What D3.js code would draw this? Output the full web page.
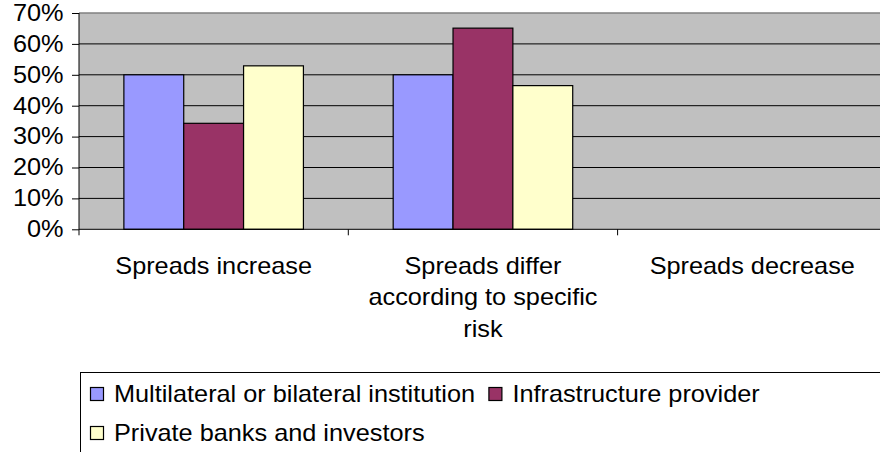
<!DOCTYPE html>
<html>
<head>
<meta charset="utf-8">
<script src="https://cdn.jsdelivr.net/npm/d3@7"></script>
<style>
  html, body { margin: 0; padding: 0; background: #fff; }
  svg { display: block; }
  text { font-family: "Liberation Sans", Arial, sans-serif; fill: #000; }
</style>
</head>
<body>
<script>
// ---- data ----
const categories = ["Spreads increase", "Spreads differ according to specific risk", "Spreads decrease"];
const seriesNames = ["Multilateral or bilateral institution", "Infrastructure provider", "Private banks and investors"];
const multilateral = [0.50, 0.50, 0];
const infrastructure = [0.343, 0.651, 0];
const privateBanks = [0.529, 0.465, 0];
const yTicks = [0, 0.1, 0.2, 0.3, 0.4, 0.5, 0.6, 0.7];
const colors = ["#9999FF", "#993366", "#FFFFCC"];

const seriesValues = [multilateral, infrastructure, privateBanks];

// ---- layout ----
const W = 880, H = 452;
const FS = 23, SX = 1.1;
const plot = { left: 79, top: 13, bottom: 229.3, step: 269.3 };
plot.right = plot.left + plot.step * categories.length;

const svg = d3.select("body").append("svg").attr("width", W).attr("height", H);
svg.append("rect").attr("width", W).attr("height", H).attr("fill", "#fff");

const x0 = d3.scaleBand().domain(categories).range([plot.left, plot.right]).padding(0);
const x1 = d3.scaleBand().domain(seriesNames).range([0, x0.bandwidth()]).paddingInner(0).paddingOuter(0.75);
const y = d3.scaleLinear().domain([0, 0.7]).range([plot.bottom, plot.top]);

// plot background
svg.append("rect")
  .attr("x", plot.left).attr("y", plot.top)
  .attr("width", plot.right - plot.left).attr("height", plot.bottom - plot.top)
  .attr("fill", "#C0C0C0");

// gridlines
svg.append("g").selectAll("line").data(yTicks.filter(d => d > 0 && d < 0.7)).join("line")
  .attr("x1", plot.left).attr("x2", plot.right)
  .attr("y1", d => y(d)).attr("y2", d => y(d))
  .attr("stroke", "#000").attr("stroke-width", 1);
// top border
svg.append("line")
  .attr("x1", plot.left).attr("x2", plot.right)
  .attr("y1", y(0.7)).attr("y2", y(0.7))
  .attr("stroke", "#808080").attr("stroke-width", 1.5);

// bars
const flat = [];
categories.forEach((c, ci) => seriesNames.forEach((s, si) => flat.push({ c, s, si, v: seriesValues[si][ci] })));
svg.append("g").selectAll("rect").data(flat.filter(d => d.v > 0)).join("rect")
  .attr("x", d => x0(d.c) + x1(d.s))
  .attr("width", x1.bandwidth())
  .attr("y", d => y(d.v))
  .attr("height", d => y(0) - y(d.v))
  .attr("fill", d => colors[d.si])
  .attr("stroke", "#000").attr("stroke-width", 1.2);

// y axis
const yAxis = d3.axisLeft(y).tickValues(yTicks).tickFormat(d3.format(".0%")).tickSize(7).tickPadding(8.5);
const gy = svg.append("g").attr("transform", `translate(${plot.left},0)`).call(yAxis);
gy.select(".domain").attr("stroke", "#000").attr("d", `M0,${plot.top}V${plot.bottom}`);
gy.selectAll(".tick line").attr("stroke", "#000");
gy.selectAll(".tick text")
  .attr("font-size", FS).attr("font-family", "Liberation Sans, Arial, sans-serif")
  .attr("fill", "#000")
  .attr("transform", `scale(${SX},1)`)
  .attr("x", -15.5 / SX);

// x axis
const gx = svg.append("g");
gx.append("line").attr("x1", plot.left).attr("x2", plot.right)
  .attr("y1", plot.bottom).attr("y2", plot.bottom).attr("stroke", "#000");
const boundaries = categories.map(c => x0(c)).concat([plot.right]);
gx.selectAll("line.tk").data(boundaries).join("line").attr("class", "tk")
  .attr("x1", d => d).attr("x2", d => d)
  .attr("y1", plot.bottom).attr("y2", plot.bottom + 6).attr("stroke", "#000");

// category labels with wrapping
const measure = svg.append("text").attr("font-size", FS).attr("visibility", "hidden");
function textW(s) { measure.text(s); return measure.node().getComputedTextLength() * SX; }
function wrap(s, maxW) {
  const words = s.split(" "); const lines = []; let cur = "";
  words.forEach(w => {
    const t = cur ? cur + " " + w : w;
    if (cur && textW(t) > maxW) { lines.push(cur); cur = w; } else cur = t;
  });
  if (cur) lines.push(cur);
  return lines;
}
categories.forEach(c => {
  const lines = wrap(c, 240);
  const cx = x0(c) + x0.bandwidth() / 2;
  lines.forEach((ln, i) => {
    svg.append("text")
      .attr("transform", `translate(${cx},${273.5 + i * 31.5}) scale(${SX},1)`)
      .attr("text-anchor", "middle").attr("font-size", FS).text(ln);
  });
});

// legend
svg.append("rect").attr("x", 80.5).attr("y", 372.5).attr("width", 900).attr("height", 200)
  .attr("fill", "#fff").attr("stroke", "#000").attr("stroke-width", 1);
let lx = 90, row = 0;
const rowY = [387, 426];
seriesNames.forEach((s, i) => {
  const tw = textW(s);
  if (lx + 24 + tw > 875) { row += 1; lx = 90; }
  const yy = rowY[row];
  svg.append("rect").attr("x", lx + 0.5).attr("y", yy + 0.5).attr("width", 13).attr("height", 13)
    .attr("fill", colors[i]).attr("stroke", "#000").attr("stroke-width", 1.2);
  svg.append("text")
    .attr("transform", `translate(${lx + 24},${yy + 14.5}) scale(${SX},1)`)
    .attr("font-size", FS).text(s);
  lx += 24 + tw + 13;
});
measure.remove();
</script>
</body>
</html>
